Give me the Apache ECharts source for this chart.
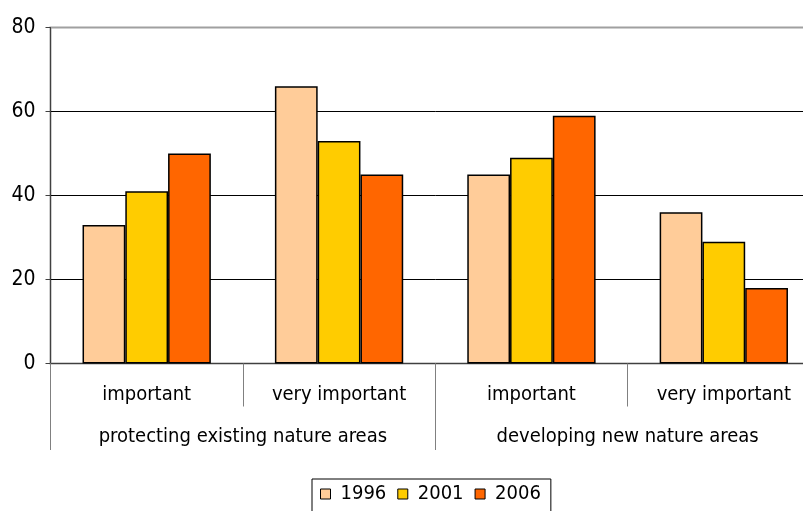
<!DOCTYPE html>
<html><head><meta charset="utf-8">
<script src="https://cdn.jsdelivr.net/npm/echarts@6/dist/echarts.min.js"></script>
<style>html,body{margin:0;padding:0;background:#fff;overflow:hidden;width:803px;height:511px}#c{width:820px;height:520px}</style>
</head><body><div id="c"></div>
<script>
const innerCategories = ['important', 'very important', 'important', 'very important'];
const outerCategories = ['protecting existing nature areas', 'developing new nature areas'];
const seriesNames = ['1996', '2001', '2006'];
const values1996 = [33, 66, 45, 36];
const values2001 = [41, 53, 49, 29];
const values2006 = [50, 45, 59, 18];
const colors = ['#FFCC99', '#FFCC00', '#FF6600'];
const FONT = "'DejaVu Sans Condensed', 'Liberation Sans Narrow', sans-serif";
const FS = 20;

const chart = echarts.init(document.getElementById('c'), null, {renderer: 'canvas', width: 820, height: 520});
const vals = [values1996, values2001, values2006];
chart.setOption({
  animation: false,
  textStyle: {fontFamily: FONT},
  grid: {left: 50.5, right: 0, top: 27.5, bottom: 156.5, show: true, borderColor: '#a0a0a0', borderWidth: 2, containLabel: false},
  legend: {
    left: 312, top: 479,
    data: seriesNames,
    itemWidth: 10, itemHeight: 10, itemGap: 11,
    icon: 'rect',
    borderColor: '#000', borderWidth: 1,
    padding: [5, 10, 10, 8],
    itemStyle: {borderColor: '#000', borderWidth: 1},
    textStyle: {fontFamily: FONT, fontSize: FS, color: '#000', padding: [0, 0, 0, 5]}
  },
  xAxis: [
    {
      type: 'category', data: innerCategories, position: 'bottom',
      axisLine: {lineStyle: {color: '#404040', width: 1}},
      axisTick: {show: true, interval: 0, length: 43, lineStyle: {color: '#808080'}},
      axisLabel: {interval: 0, margin: 21, fontSize: FS, color: '#000', fontFamily: FONT},
      splitLine: {show: false}
    },
    {
      type: 'category', data: outerCategories, position: 'bottom', offset: 0,
      axisLine: {show: false},
      axisTick: {show: true, interval: 0, length: 86.5, lineStyle: {color: '#808080'}},
      axisLabel: {interval: 0, margin: 63, fontSize: FS, color: '#000', fontFamily: FONT},
      splitLine: {show: false}
    }
  ],
  yAxis: {
    type: 'value', min: 0, max: 80, interval: 20,
    axisLine: {show: true, lineStyle: {color: '#404040'}},
    axisTick: {show: true, length: 5, lineStyle: {color: '#404040'}},
    axisLabel: {margin: 15, fontSize: 21, color: '#000', fontFamily: FONT},
    splitLine: {show: true, lineStyle: {color: ['#000', '#000', '#000', '#000', '#a0a0a0'], width: 1}}
  },
  series: seriesNames.map((n, i) => ({
    name: n, type: 'bar', xAxisIndex: 0, data: vals[i],
    barGap: '0%', barCategoryGap: '33.3%',
    itemStyle: {color: colors[i], borderColor: '#000', borderWidth: 1.5}
  }))
});
</script></body></html>
